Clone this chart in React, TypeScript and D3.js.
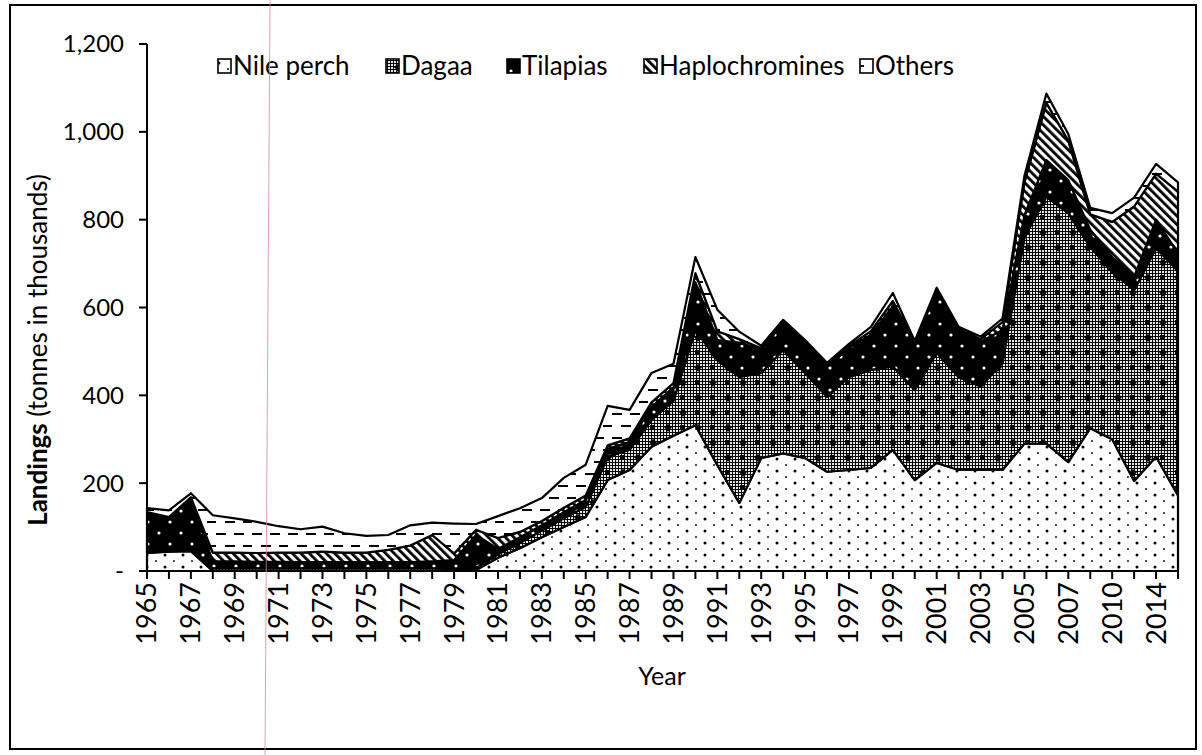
import * as d3 from 'd3';

// categories (survey years) and landings by group, thousand tonnes
const years = [
  '1965', '1966', '1967', '1968', '1969', '1970', '1971', '1972', '1973', '1974',
  '1975', '1976', '1977', '1978', '1979', '1980', '1981', '1982', '1983', '1984',
  '1985', '1986', '1987', '1988', '1989', '1990', '1991', '1992', '1993', '1994',
  '1995', '1996', '1997', '1998', '1999', '2000', '2001', '2002', '2003', '2004',
  '2005', '2006', '2007', '2008', '2010', '2012', '2014', '2015',
];

const nilePerch = [
  41, 44, 45, 0, 0, 0, 0, 0, 0, 0, 0, 0, 0, 0, 0,
  2, 30, 52, 77, 100, 123, 207, 230, 283, 308,
  332, 241, 155, 257, 268, 257, 226, 230, 235, 276,
  207, 246, 230, 230, 230, 290, 290, 248, 325,
  300, 205, 260, 172,
];
const dagaa = [
  3, 3, 3, 6, 6, 6, 6, 6, 6, 6, 6, 6, 6, 6, 5,
  5, 8, 12, 15, 20, 23, 53, 46, 61, 80,
  217, 239, 287, 194, 235, 194, 171, 212, 223, 190,
  205, 251, 212, 190, 244, 470, 562, 567, 413,
  380, 435, 475, 512,
];
const tilapias = [
  88, 74, 118, 16, 16, 15, 15, 14, 14, 14, 14, 14, 14, 16, 20,
  75, 12, 13, 12, 14, 16, 18, 18, 30, 30,
  109, 46, 78, 52, 62, 64, 68, 66, 80, 137,
  107, 143, 107, 102, 75, 50, 84, 75, 39,
  35, 30, 65, 40,
];
const haplochromines = [
  2, 2, 2, 20, 20, 20, 21, 22, 24, 22, 22, 28, 38, 60, 15,
  12, 25, 12, 10, 10, 10, 8, 8, 10, 10,
  20, 20, 8, 4, 3, 5, 4, 4, 8, 12,
  2, 2, 3, 6, 18, 75, 130, 90, 35,
  80, 160, 105, 140,
];
const others = [
  9, 15, 9, 85, 78, 71, 60, 53, 57, 44, 38, 34, 46, 28, 68,
  13, 50, 54, 52, 68, 70, 90, 65, 67, 44,
  37, 49, 17, 6, 4, 6, 5, 5, 10, 18,
  3, 3, 4, 6, 8, 15, 21, 15, 15,
  20, 20, 22, 21,
];

const seriesNames = ['Nile perch', 'Dagaa', 'Tilapias', 'Haplochromines', 'Others'];
const seriesValues = [nilePerch, dagaa, tilapias, haplochromines, others];
const seriesPatterns = ['pNile', 'pDagaa', 'pTilapia', 'pHaplo', 'pOthers'];
const yTicks = [0, 200, 400, 600, 800, 1000, 1200];

const FONT = "Lato, 'Open Sans', sans-serif";

export default function App() {
  const W = 1202;
  const H = 755;
  const left = 147;
  const right = 1178;
  const top = 44;
  const bottom = 571;

  const x = d3.scalePoint<string>().domain(years).range([left, right]);
  const y = d3.scaleLinear().domain([0, 1200]).range([bottom, top]);

  const table = years.map((yr, i) => {
    const row: Record<string, number | string> = { year: yr };
    seriesNames.forEach((n, k) => (row[n] = seriesValues[k][i]));
    return row;
  });
  const stacked = d3.stack<any>().keys(seriesNames)(table);

  const area = d3
    .area<any>()
    .x((d) => x(d.data.year) as number)
    .y0((d) => y(d[0]))
    .y1((d) => y(d[1]));

  const fmt = (v: number) => (v === 0 ? '-' : d3.format(',')(v));

  const legendItems = [
    { box: 218, text: 233 },
    { box: 386, text: 401 },
    { box: 507, text: 522 },
    { box: 644, text: 659 },
    { box: 860, text: 875 },
  ];

  return (
    <svg
      width={W}
      height={H}
      style={{ position: 'absolute', left: 0, top: 0, background: '#fff' }}
      fontFamily={FONT}
    >
      <defs>
        <pattern id="pNile" patternUnits="userSpaceOnUse" width="18" height="12">
          <rect width="18" height="12" fill="#fff" />
          <circle cx="3" cy="3" r="1.5" fill="#000" />
          <circle cx="12" cy="9" r="0.9" fill="#000" />
        </pattern>
        <pattern id="pGrid" patternUnits="userSpaceOnUse" width="3" height="3">
          <rect width="3" height="3" fill="#000" />
          <rect x="1" y="1" width="2" height="2" fill="#e8e8e8" />
        </pattern>
        <pattern id="pDagaa" patternUnits="userSpaceOnUse" width="30" height="30">
          <rect width="30" height="30" fill="url(#pGrid)" />
          <path d="M4 7 l4 -3 l4 3 l-4 5 z" fill="#000" />
          <path d="M19 22 l4 -3 l4 3 l-4 5 z" fill="#000" />
          <rect x="20" y="5" width="5" height="4" fill="#000" />
          <rect x="5" y="20" width="5" height="4" fill="#000" />
        </pattern>
        <pattern id="pTilapia" patternUnits="userSpaceOnUse" width="22" height="22">
          <rect width="22" height="22" fill="#000" />
          <circle cx="5" cy="5" r="1.6" fill="#fff" />
          <circle cx="16" cy="16" r="1.6" fill="#fff" />
        </pattern>
        <pattern
          id="pHaplo"
          patternUnits="userSpaceOnUse"
          width="6"
          height="6"
          patternTransform="rotate(-45)"
        >
          <rect width="6" height="6" fill="#fff" />
          <rect width="2.8" height="6" fill="#000" />
        </pattern>
        <pattern id="pOthers" patternUnits="userSpaceOnUse" width="36" height="24">
          <rect width="36" height="24" fill="#fff" />
          <rect x="0" y="5" width="10" height="2" fill="#000" />
          <rect x="18" y="5" width="10" height="2" fill="#000" />
          <rect x="9" y="17" width="10" height="2" fill="#000" />
          <rect x="27" y="17" width="10" height="2" fill="#000" />
        </pattern>
      </defs>

      {/* outer frame */}
      <rect x={10} y={5} width={1186} height={744} fill="none" stroke="#000" strokeWidth={2} />

      {/* stacked areas */}
      {stacked.map((s, k) => (
        <path
          key={s.key}
          d={area(s) || ''}
          fill={`url(#${seriesPatterns[k]})`}
          stroke="#000"
          strokeWidth={2.2}
          strokeLinejoin="round"
        />
      ))}

      {/* y axis */}
      <line x1={left} x2={left} y1={top} y2={bottom} stroke="#000" strokeWidth={2} />
      {yTicks.map((t) => (
        <g key={t}>
          <line x1={left - 8} x2={left} y1={y(t)} y2={y(t)} stroke="#000" strokeWidth={2} />
          <text x={124} y={y(t)} dy="0.35em" textAnchor="end" fontSize={24} fill="#000">
            {fmt(t)}
          </text>
        </g>
      ))}

      {/* x axis */}
      <line x1={left} x2={right} y1={bottom} y2={bottom} stroke="#000" strokeWidth={2} />
      {years.map((yr, i) => (
        <g key={yr}>
          <line
            x1={x(yr)}
            x2={x(yr)}
            y1={bottom}
            y2={bottom + 8}
            stroke="#000"
            strokeWidth={2}
          />
          {i % 2 === 0 && (
            <text
              transform={`translate(${x(yr)},${bottom + 11}) rotate(-90)`}
              dy="0.35em"
              textAnchor="end"
              fontSize={27}
              fill="#000"
            >
              {yr}
            </text>
          )}
        </g>
      ))}

      <text x={662} y={685} textAnchor="middle" fontSize={25} fill="#000">
        Year
      </text>
      <text
        transform="translate(38,350) rotate(-90)"
        dy="0.35em"
        textAnchor="middle"
        fontSize={26}
        fill="#000"
      >
        <tspan fontWeight="bold">Landings</tspan> (tonnes in thousands)
      </text>

      {/* legend */}
      {seriesNames.map((n, k) => (
        <g key={n}>
          <rect
            x={legendItems[k].box}
            y={59}
            width={13}
            height={14}
            fill={`url(#${seriesPatterns[k]})`}
            stroke="#000"
            strokeWidth={1.6}
          />
          <text x={legendItems[k].text} y={66} dy="0.35em" fontSize={26} fill="#000">
            {n}
          </text>
        </g>
      ))}

      {/* scan margin line */}
      <line x1={270} y1={0} x2={265} y2={755} stroke="#d9879f" strokeWidth={1} opacity={0.8} />
    </svg>
  );
}
